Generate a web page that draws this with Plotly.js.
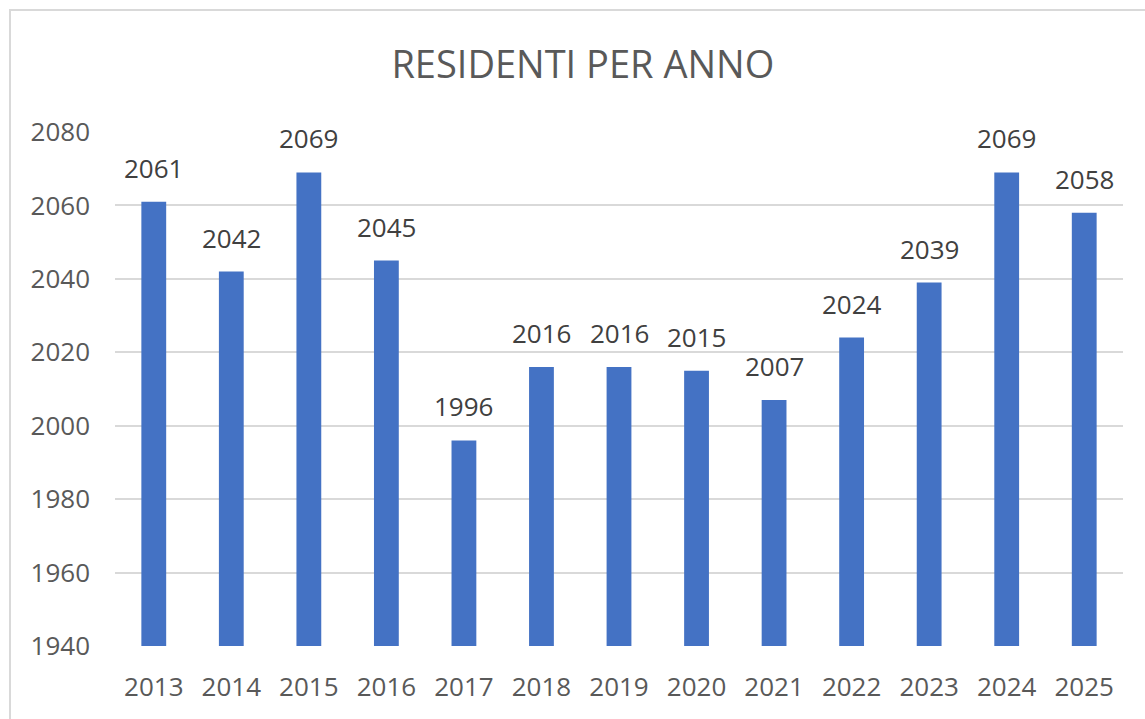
<!DOCTYPE html>
<html>
<head>
<meta charset="utf-8">
<script src="https://cdn.plot.ly/plotly-3.0.1.min.js"></script>
<style>
  html, body { margin: 0; padding: 0; background: #fff; }
  #chart { width: 1145px; height: 719px; }
  #frame { position: absolute; left: 9px; top: 9px; width: 1150px; height: 720px;
           border-left: 2px solid #d9d9d9; border-top: 2px solid #d9d9d9; pointer-events: none; }
</style>
</head>
<body>
<div id="chart"></div>
<div id="frame"></div>
<script>
const years = ['2013','2014','2015','2016','2017','2018','2019','2020','2021','2022','2023','2024','2025'];
const residents = [2061, 2042, 2069, 2045, 1996, 2016, 2016, 2015, 2007, 2024, 2039, 2069, 2058];
const yTicks = [1940, 1960, 1980, 2000, 2020, 2040, 2060, 2080];
const chartTitle = 'RESIDENTI PER ANNO';

const FONT = 'Open Sans, sans-serif';

const trace = {
  type: 'bar',
  x: years,
  y: residents,
  marker: { color: '#4472C4' },
  hoverinfo: 'x+y'
};

const annotations = years.map((yr, i) => ({
  x: i, y: residents[i], xref: 'x', yref: 'y',
  text: String(residents[i]),
  showarrow: false, yanchor: 'bottom', yshift: 14,
  font: { family: FONT, size: 26, color: '#404040' }
}));

const layout = {
  width: 1145, height: 719,
  margin: { l: 115, r: 21.5, t: 132, b: 73 },
  paper_bgcolor: '#ffffff', plot_bgcolor: '#ffffff',
  bargap: 0.68,
  showlegend: false,
  title: {
    text: chartTitle,
    font: { family: FONT, size: 38, color: '#595959' },
    xref: 'container', x: 0.509, xanchor: 'center',
    yref: 'container', y: 1 - 65/719, yanchor: 'middle'
  },
  xaxis: {
    type: 'category',
    range: [-0.5, years.length - 0.5],
    autorange: false,
    tickfont: { family: FONT, size: 26, color: '#595959' },
    showgrid: false, zeroline: false, showline: false,
    ticks: '', ticklabelstandoff: 23
  },
  yaxis: {
    range: [1940, 2080],
    autorange: false,
    tickvals: yTicks,
    ticktext: yTicks.map(String),
    tickfont: { family: FONT, size: 26, color: '#595959' },
    showgrid: true, gridcolor: '#d9d9d9', gridwidth: 2,
    zeroline: false, showline: false, ticks: '',
    ticklabelstandoff: 24
  },
  annotations: annotations
};

Plotly.newPlot('chart', [trace], layout, { displayModeBar: false, staticPlot: true });
</script>
</body>
</html>
